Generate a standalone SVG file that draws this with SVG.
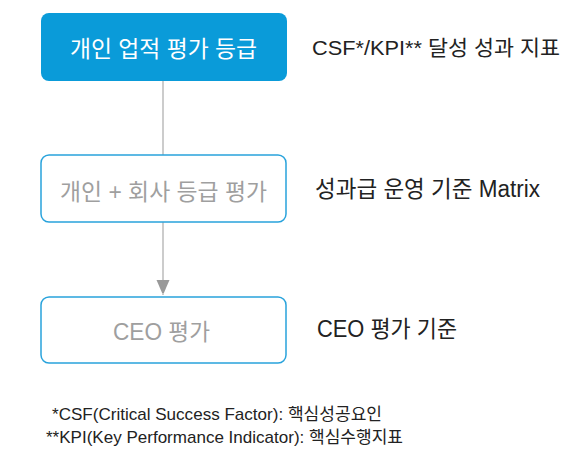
<svg xmlns="http://www.w3.org/2000/svg" width="566" height="455" viewBox="0 0 566 455">
<defs>
<style>
text{font-family:"Liberation Sans","Noto Sans CJK KR",sans-serif;}
.box{fill:#fff;stroke:#29a3dc;stroke-width:1.5;}
.lbl{font-size:23px;fill:#222;}
.ntext{font-size:23px;fill:#9f9f9f;}
.note{font-size:17px;fill:#222;}
.conn{stroke:#bbb;stroke-width:1.5;fill:none;}
</style>
<marker id="arr" markerWidth="13" markerHeight="15" refX="15" refY="6.5" orient="auto" markerUnits="userSpaceOnUse">
<path d="M0,0 L15,6.5 L0,13 Z" fill="#999"/>
</marker>
</defs>
<g id="connectors">
<line class="conn" x1="163" y1="81" x2="163" y2="155"/>
<line class="conn" x1="163" y1="222" x2="163" y2="295" marker-end="url(#arr)"/>
</g>
<g id="node1">
<rect x="41" y="13" width="246" height="68" rx="8" fill="#0a9bd9"/>
<text x="70" y="57" class="ntext" style="fill:#fff" textLength="187" lengthAdjust="spacingAndGlyphs">개인 업적 평가 등급</text>
</g>
<g id="node2">
<rect class="box" x="41" y="155" width="245" height="67" rx="8"/>
<text x="60" y="200" class="ntext" textLength="207" lengthAdjust="spacingAndGlyphs">개인 + 회사 등급 평가</text>
</g>
<g id="node3">
<rect class="box" x="41" y="297" width="245" height="66" rx="8"/>
<text x="113" y="340" class="ntext" textLength="97" lengthAdjust="spacingAndGlyphs">CEO 평가</text>
</g>
<g id="labels">
<text x="312" y="55" class="lbl" style="font-size:21px" textLength="248" lengthAdjust="spacingAndGlyphs">CSF*/KPI** 달성 성과 지표</text>
<text x="315" y="197" class="lbl" textLength="225" lengthAdjust="spacingAndGlyphs">성과급 운영 기준 Matrix</text>
<text x="317" y="337" class="lbl" textLength="140" lengthAdjust="spacingAndGlyphs">CEO 평가 기준</text>
<text x="52" y="420" class="note" textLength="330" lengthAdjust="spacingAndGlyphs">*CSF(Critical Success Factor): 핵심성공요인</text>
<text x="46" y="443" class="note" textLength="357" lengthAdjust="spacingAndGlyphs">**KPI(Key Performance Indicator): 핵심수행지표</text>
</g>
</svg>
